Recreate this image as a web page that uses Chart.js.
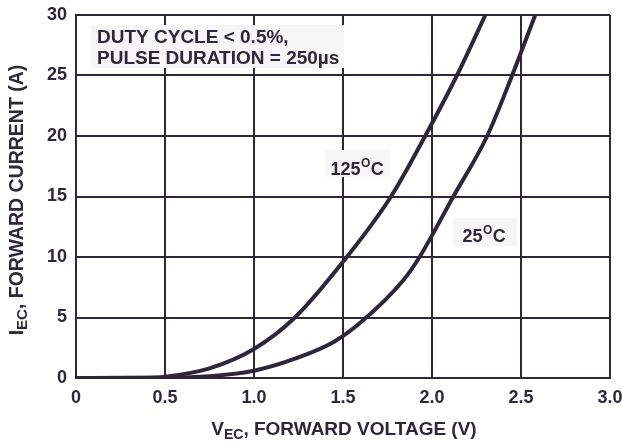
<!DOCTYPE html>
<html>
<head>
<meta charset="utf-8">
<script src="https://cdn.jsdelivr.net/npm/chart.js@4"></script>
<style>
html,body{margin:0;padding:0;background:#fff;}
#wrap{width:622px;height:447px;position:relative;}
</style>
</head>
<body>
<div id="wrap"><canvas id="c" width="622" height="447"></canvas></div>
<script>
// ---- data ----
const xTickLabels = ['0', '0.5', '1.0', '1.5', '2.0', '2.5', '3.0'];
const yTickLabels = ['0', '5', '10', '15', '20', '25', '30'];
const v125 = [0, 0.4, 0.5, 0.75, 1.0, 1.23, 1.5, 1.77, 1.98, 2.14, 2.30];
const i125 = [0, 0.02, 0.1, 0.8, 2.4, 5.0, 9.6, 15.0, 20.5, 25.0, 30.0];
const v25 = [0, 0.5, 0.75, 1.0, 1.25, 1.45, 1.6, 1.84, 1.93, 2.12, 2.31, 2.45, 2.58];
const i25 = [0, 0.02, 0.15, 0.6, 1.7, 3.0, 4.6, 8.1, 10.0, 15.0, 20.0, 25.0, 30.0];
const seriesLabels = ['125°C', '25°C'];
const noteLines = ['DUTY CYCLE < 0.5%,', 'PULSE DURATION = 250µs'];

const INK = '#2e2639';
const FONT = '"Liberation Sans", Arial, sans-serif';

function pts(xs, ys) { return xs.map((x, i) => ({x: x, y: ys[i]})); }

const overlay = {
  id: 'overlay',
  beforeDatasetsDraw(chart) {
    const ctx = chart.ctx;
    ctx.save();
    // note box
    ctx.fillStyle = '#f6f6f6';
    ctx.fillRect(91, 25, 253, 43);
    ctx.fillStyle = INK;
    ctx.font = 'bold 19px ' + FONT;
    ctx.textBaseline = 'alphabetic';
    ctx.textAlign = 'left';
    ctx.fillText(noteLines[0], 97, 43);
    ctx.fillText(noteLines[1], 97, 63.5);
    // temp labels
    function tempLabel(bx, by, bw, bh, tx, ty, num) {
      ctx.fillStyle = '#f6f6f6';
      ctx.fillRect(bx, by, bw, bh);
      ctx.fillStyle = INK;
      ctx.font = 'bold 18px ' + FONT;
      ctx.fillText(num, tx, ty);
      let w = ctx.measureText(num).width;
      ctx.font = 'bold 12px ' + FONT;
      ctx.fillText('O', tx + w + 0.5, ty - 8);
      let w2 = ctx.measureText('O').width;
      ctx.font = 'bold 18px ' + FONT;
      ctx.fillText('C', tx + w + w2 + 1, ty);
    }
    tempLabel(325, 150, 65, 27, 330.5, 174.5, '125');
    tempLabel(453, 218, 64, 28, 462.5, 242, '25');
    ctx.restore();
  },
  afterDraw(chart) {
    const ctx = chart.ctx;
    ctx.save();
    ctx.fillStyle = INK;
    ctx.textBaseline = 'alphabetic';
    ctx.textAlign = 'left';
    function drawSub(main, sub, rest, cx, base, size) {
      const big = 'bold ' + size + 'px ' + FONT;
      const small = 'bold ' + Math.round(size * 0.75) + 'px ' + FONT;
      ctx.font = big; const w1 = ctx.measureText(main).width;
      ctx.font = small; const w2 = ctx.measureText(sub).width;
      ctx.font = big; const w3 = ctx.measureText(rest).width;
      let x = cx - (w1 + w2 + w3) / 2;
      ctx.font = big; ctx.fillText(main, x, base); x += w1;
      ctx.font = small; ctx.fillText(sub, x, base + 4); x += w2;
      ctx.font = big; ctx.fillText(rest, x, base);
    }
    drawSub('V', 'EC', ', FORWARD VOLTAGE (V)', 344, 435, 19);
    ctx.translate(23, 200);
    ctx.rotate(-Math.PI / 2);
    drawSub('I', 'EC', ', FORWARD CURRENT (A)', 0, 0, 19.5);
    ctx.restore();
  }
};

new Chart(document.getElementById('c'), {
  type: 'line',
  data: {
    datasets: [
      {label: seriesLabels[0], data: pts(v125, i125), borderColor: INK, borderWidth: 4,
       pointRadius: 0, cubicInterpolationMode: 'monotone', fill: false},
      {label: seriesLabels[1], data: pts(v25, i25), borderColor: INK, borderWidth: 4,
       pointRadius: 0, cubicInterpolationMode: 'monotone', fill: false}
    ]
  },
  options: {
    responsive: false,
    animation: false,
    devicePixelRatio: 1,
    layout: {padding: {left: 0, top: 15, right: 12, bottom: 0}},
    plugins: {legend: {display: false}, tooltip: {enabled: false}},
    scales: {
      x: {
        type: 'linear', min: 0, max: 3,
        ticks: {stepSize: 0.5, color: INK, font: {family: FONT, size: 18, weight: 'bold'},
                padding: 9, maxRotation: 0, autoSkip: false,
                callback: (v, i) => xTickLabels[i]},
        grid: {color: INK, lineWidth: 2, drawTicks: false},
        border: {color: INK, width: 2},
        afterFit: s => { s.height = 69; s.paddingLeft = 0; s.paddingRight = 0; }
      },
      y: {
        type: 'linear', min: 0, max: 30,
        ticks: {stepSize: 5, color: INK, font: {family: FONT, size: 18, weight: 'bold'},
                padding: 9, autoSkip: false,
                callback: (v, i) => yTickLabels[i]},
        grid: {color: INK, lineWidth: 2, drawTicks: false},
        border: {color: INK, width: 2},
        afterFit: s => { s.width = 76; s.paddingTop = 0; s.paddingBottom = 0; }
      }
    }
  },
  plugins: [overlay]
});
</script>
</body>
</html>
